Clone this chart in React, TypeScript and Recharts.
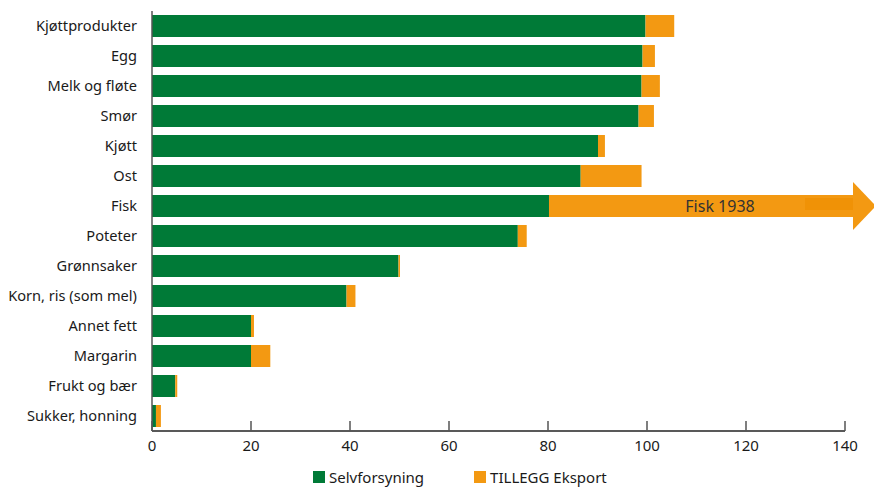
import { BarChart, Bar, XAxis, YAxis } from 'recharts';

const categories = [
  'Kjøttprodukter', 'Egg', 'Melk og fløte', 'Smør', 'Kjøtt', 'Ost', 'Fisk',
  'Poteter', 'Grønnsaker', 'Korn, ris (som mel)', 'Annet fett', 'Margarin',
  'Frukt og bær', 'Sukker, honning',
];
const selvforsyning = [99.7, 99.1, 98.9, 98.3, 90.1, 86.6, 80.2, 73.9, 49.8, 39.3, 20.0, 20.0, 4.7, 0.8];
const eksport = [5.8, 2.5, 3.7, 3.1, 1.4, 12.3, 59.8, 1.8, 0.3, 1.8, 0.6, 3.9, 0.4, 1.0];
const xTicks = [0, 20, 40, 60, 80, 100, 120, 140];
const arrowCategory = 'Fisk';
const arrowLabel = 'Fisk 1938';

const GREEN = '#007A37';
const ORANGE = '#F39912';
const FONT = '"Noto Sans", sans-serif';

const data = categories.map((name, i) => ({
  name,
  selv: selvforsyning[i],
  eksport: eksport[i],
}));

// orange bar, with the arrow drawn on the truncated Fisk bar
const EksportShape = (props: any) => {
  const { x, y, width, height, payload } = props;
  if (payload.name !== arrowCategory) {
    return <rect x={x} y={y} width={width} height={height} fill={ORANGE} />;
  }
  const end = x + width + 8;
  const cy = y + height / 2;
  return (
    <g>
      <rect x={x} y={y} width={end - x} height={height} fill={ORANGE} />
      <rect x={end - 48} y={y + 3} width={48} height={height - 10} fill="#F09206" />
      <polygon points={`${end},${cy - 24} ${end + 23},${cy} ${end},${cy + 24}`} fill={ORANGE} />
      <text
        x={x + width - 125}
        y={cy}
        dy={6}
        textAnchor="middle"
        fontFamily={FONT}
        fontSize={16}
        fill="#333"
      >
        {arrowLabel}
      </text>
    </g>
  );
};

const XTick = (props: any) => {
  const { x, y, payload } = props;
  return (
    <g>
      <line x1={x} x2={x} y1={y - 10} y2={y} stroke="#555" strokeWidth={1.5} />
      <text x={x} y={y + 20} textAnchor="middle" fontFamily={FONT} fontSize={15} fill="#1a1a1a">
        {payload.value}
      </text>
    </g>
  );
};

export default function App() {
  return (
    <div style={{ position: 'absolute', left: 0, top: 0, width: 874, height: 487, background: '#fff' }}>
      <BarChart
        width={874}
        height={487}
        data={data}
        layout="vertical"
        margin={{ top: 11, right: 29, bottom: 0, left: 0 }}
        barSize={22}
      >
        <XAxis
          type="number"
          domain={[0, 140]}
          ticks={xTicks}
          interval={0}
          height={56}
          tickSize={0}
          tickMargin={0}
          tick={<XTick />}
          axisLine={{ stroke: '#222', strokeWidth: 1.5 }}
        />
        <YAxis
          type="category"
          dataKey="name"
          width={152}
          tickLine={false}
          tickMargin={9}
          interval={0}
          axisLine={{ stroke: '#555', strokeWidth: 1.5 }}
          tick={{ fontFamily: FONT, fontSize: 14.6, fill: '#1a1a1a' }}
        />
        <Bar dataKey="selv" stackId="a" fill={GREEN} isAnimationActive={false} />
        <Bar dataKey="eksport" stackId="a" fill={ORANGE} shape={<EksportShape />} isAnimationActive={false} />
      </BarChart>
      <div
        style={{
          position: 'absolute',
          top: 467,
          left: 313,
          display: 'flex',
          alignItems: 'center',
          fontFamily: FONT,
          fontSize: 15,
          color: '#1a1a1a',
        }}
      >
        <span style={{ width: 12, height: 12, background: GREEN, marginRight: 4 }} />
        <span style={{ marginRight: 50 }}>Selvforsyning</span>
        <span style={{ width: 12, height: 12, background: ORANGE, marginRight: 4 }} />
        <span>TILLEGG Eksport</span>
      </div>
    </div>
  );
}
